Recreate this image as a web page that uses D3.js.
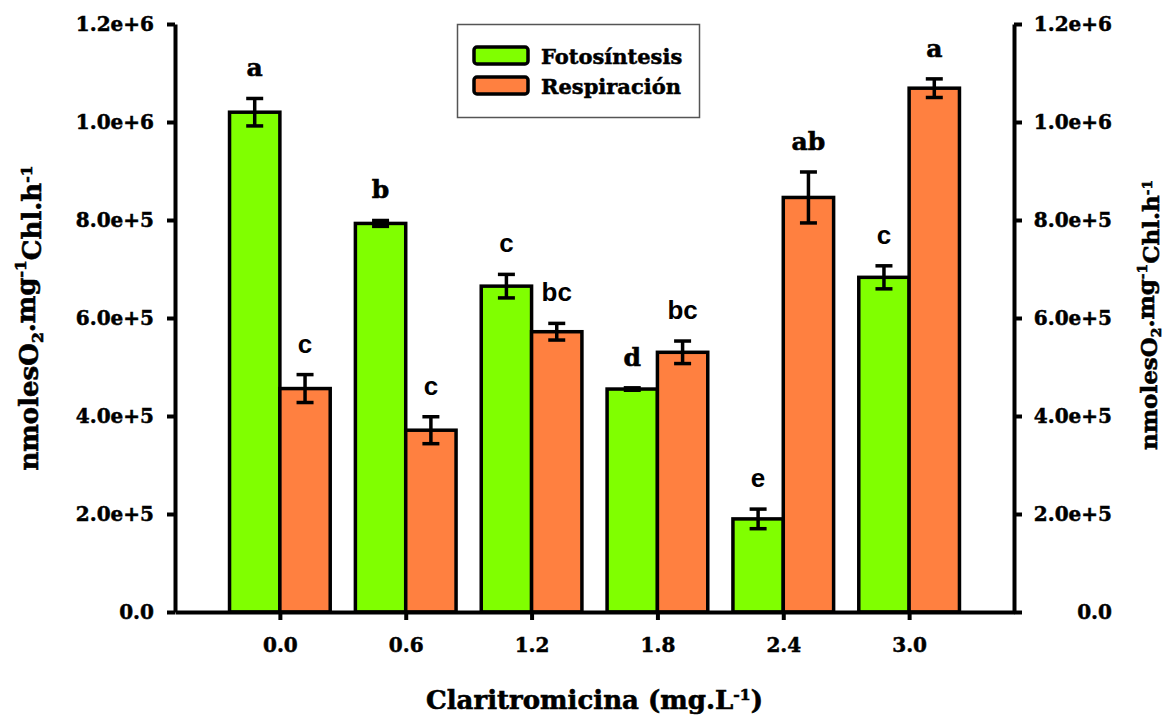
<!DOCTYPE html>
<html>
<head>
<meta charset="utf-8">
<script src="https://cdn.jsdelivr.net/npm/d3@7"></script>
<style>
  html, body { margin: 0; padding: 0; background: #fff; }
  svg { display: block; }
</style>
</head>
<body>
<svg id="chart" width="1167" height="715"></svg>
<script>
// Claritromicina concentrations (mg/L) and their axis labels
const concentrations = [0.0, 0.6, 1.2, 1.8, 2.4, 3.0];
const concentrationLabels = ["0.0", "0.6", "1.2", "1.8", "2.4", "3.0"];

// Photosynthesis and respiration rates (nmoles O2 . mg-1 Chl . h-1) with error
const fotosintesis = [1020000, 793000, 665000, 455000, 190000, 683000];
const fotosintesisErr = [28000, 6000, 24000, 2500, 20000, 23500];
const respiracion = [456000, 371000, 572000, 530000, 846000, 1069000];
const respiracionErr = [28500, 27500, 17000, 23000, 52000, 19000];

// Significance letters above each bar
const fotosintesisLetters = ["a", "b", "c", "d", "e", "c"];
const respiracionLetters = ["c", "c", "bc", "bc", "ab", "a"];

// Value axis ticks
const yTicks = [0, 200000, 400000, 600000, 800000, 1000000, 1200000];
const yTickLabels = ["0.0", "2.0e+5", "4.0e+5", "6.0e+5", "8.0e+5", "1.0e+6", "1.2e+6"];

const seriesNames = ["Fotosíntesis", "Respiración"];

const GREEN = "#80ff00";
const ORANGE = "#ff8040";
const SERIF = "'DejaVu Serif', serif";
const SANS = "'Liberation Sans', Arial, sans-serif";
const sansLetters = new Set(["c", "bc", "e"]);

const svg = d3.select("#chart");

const x = d3.scaleLinear().domain([-0.5, 3.5]).range([175, 1014]);
const y = d3.scaleLinear().domain([0, 1200000]).range([612, 24]);
const barSpan = 0.24; // width of one bar in concentration units
const bw = x(barSpan) - x(0);

// Bars
const series = [
  { values: fotosintesis, err: fotosintesisErr, letters: fotosintesisLetters, color: GREEN, offset: -1 },
  { values: respiracion, err: respiracionErr, letters: respiracionLetters, color: ORANGE, offset: 0 }
];

series.forEach(s => {
  const g = svg.append("g");
  const rows = concentrations.map((c, i) => ({ c, v: s.values[i], e: s.err[i], l: s.letters[i] }));

  g.selectAll("rect")
    .data(rows)
    .join("rect")
    .attr("x", d => x(d.c) + s.offset * bw)
    .attr("y", d => y(d.v))
    .attr("width", bw)
    .attr("height", d => y(0) - y(d.v))
    .attr("fill", s.color)
    .attr("stroke", "#000")
    .attr("stroke-width", 3.5);

  const cx = d => x(d.c) + s.offset * bw + bw / 2;
  const capW = 17;

  g.selectAll("line.err")
    .data(rows)
    .join("line")
    .attr("class", "err")
    .attr("x1", cx).attr("x2", cx)
    .attr("y1", d => y(d.v + d.e)).attr("y2", d => y(d.v - d.e))
    .attr("stroke", "#000").attr("stroke-width", 3.5);

  g.selectAll("line.capTop")
    .data(rows)
    .join("line")
    .attr("class", "capTop")
    .attr("x1", d => cx(d) - capW / 2).attr("x2", d => cx(d) + capW / 2)
    .attr("y1", d => y(d.v + d.e)).attr("y2", d => y(d.v + d.e))
    .attr("stroke", "#000").attr("stroke-width", 3.5);

  g.selectAll("line.capBot")
    .data(rows)
    .join("line")
    .attr("class", "capBot")
    .attr("x1", d => cx(d) - capW / 2).attr("x2", d => cx(d) + capW / 2)
    .attr("y1", d => y(d.v - d.e)).attr("y2", d => y(d.v - d.e))
    .attr("stroke", "#000").attr("stroke-width", 3.5);

  g.selectAll("text.letter")
    .data(rows)
    .join("text")
    .attr("class", "letter")
    .attr("x", cx)
    .attr("y", d => y(d.v + d.e) - 22)
    .attr("text-anchor", "middle")
    .attr("font-family", d => sansLetters.has(d.l) ? SANS : SERIF)
    .attr("font-weight", "bold")
    .attr("font-size", d => sansLetters.has(d.l) ? 26 : 25)
    .attr("stroke", d => sansLetters.has(d.l) ? "none" : "#000")
    .attr("stroke-width", 0.6)
    .attr("fill", "#000")
    .text(d => d.l);
});

// Axes
function styleAxis(g) {
  g.select(".domain").attr("stroke", "#000").attr("stroke-width", 4);
  g.selectAll(".tick line").attr("stroke", "#000").attr("stroke-width", 4);
  g.selectAll(".tick text")
    .attr("font-family", SERIF)
    .attr("font-weight", "bold")
    .attr("font-size", 20)
    .attr("stroke", "#000")
    .attr("stroke-width", 0.5)
    .attr("fill", "#000");
}

const yFmt = d => yTickLabels[yTicks.indexOf(d)];

svg.append("g")
  .attr("transform", `translate(${x(-0.5)},0)`)
  .call(d3.axisLeft(y).tickValues(yTicks).tickFormat(yFmt).tickSize(8).tickSizeOuter(0).tickPadding(13))
  .call(styleAxis);

const rightAxis = svg.append("g")
  .attr("transform", `translate(${x(3.5)},0)`)
  .call(d3.axisRight(y).tickValues(yTicks).tickFormat(yFmt).tickSize(8).tickSizeOuter(0).tickPadding(13))
  .call(styleAxis);
// right-hand labels are right-aligned in a fixed column
rightAxis.selectAll(".tick text")
  .attr("text-anchor", "end")
  .attr("x", 1112 - x(3.5));

svg.append("g")
  .attr("transform", `translate(0,${y(0)})`)
  .call(d3.axisBottom(x).tickValues(concentrations)
    .tickFormat(d => concentrationLabels[concentrations.indexOf(d)])
    .tickSize(8).tickSizeOuter(0).tickPadding(18))
  .call(styleAxis);

// Axis titles
function unitsTitle(sel) {
  sel.append("tspan").text("nmolesO");
  sel.append("tspan").attr("font-size", "0.6em").attr("dy", "0.3em").text("2");
  sel.append("tspan").attr("dy", "-0.3em").text(".mg");
  sel.append("tspan").attr("font-size", "0.6em").attr("dy", "-0.55em").text("-1");
  sel.append("tspan").attr("dy", "0.55em").text("Chl.h");
  sel.append("tspan").attr("font-size", "0.6em").attr("dy", "-0.55em").text("-1");
}

svg.append("text")
  .attr("transform", "translate(38,318) rotate(-90)")
  .attr("text-anchor", "middle")
  .attr("font-family", SERIF).attr("font-weight", "bold").attr("font-size", 26)
  .attr("stroke", "#000").attr("stroke-width", 0.6)
  .call(unitsTitle);

svg.append("text")
  .attr("transform", "translate(1157,315) rotate(-90)")
  .attr("text-anchor", "middle")
  .attr("font-family", SERIF).attr("font-weight", "bold").attr("font-size", 23)
  .attr("stroke", "#000").attr("stroke-width", 0.6)
  .call(unitsTitle);

const xTitle = svg.append("text")
  .attr("x", (x(-0.5) + x(3.5)) / 2)
  .attr("y", 709)
  .attr("text-anchor", "middle")
  .attr("font-family", SERIF).attr("font-weight", "bold").attr("font-size", 26)
  .attr("stroke", "#000").attr("stroke-width", 0.6);
xTitle.append("tspan").text("Claritromicina (mg.L");
xTitle.append("tspan").attr("font-size", "0.6em").attr("dy", "-0.6em").text("-1");
xTitle.append("tspan").attr("dy", "0.36em").text(")");

// Legend
const legend = svg.append("g");
legend.append("rect")
  .attr("x", 457.5).attr("y", 24.5).attr("width", 242).attr("height", 93)
  .attr("fill", "#fff").attr("stroke", "#555").attr("stroke-width", 1.5);

[GREEN, ORANGE].forEach((col, i) => {
  legend.append("rect")
    .attr("x", 474).attr("y", 47 + i * 30).attr("width", 54).attr("height", 17)
    .attr("rx", 3)
    .attr("fill", col).attr("stroke", "#000").attr("stroke-width", 3.5);
  legend.append("text")
    .attr("x", 541).attr("y", 64 + i * 30)
    .attr("font-family", SERIF).attr("font-weight", "bold").attr("font-size", 21)
    .attr("stroke", "#000").attr("stroke-width", 0.5)
    .text(seriesNames[i]);
});
</script>
</body>
</html>
